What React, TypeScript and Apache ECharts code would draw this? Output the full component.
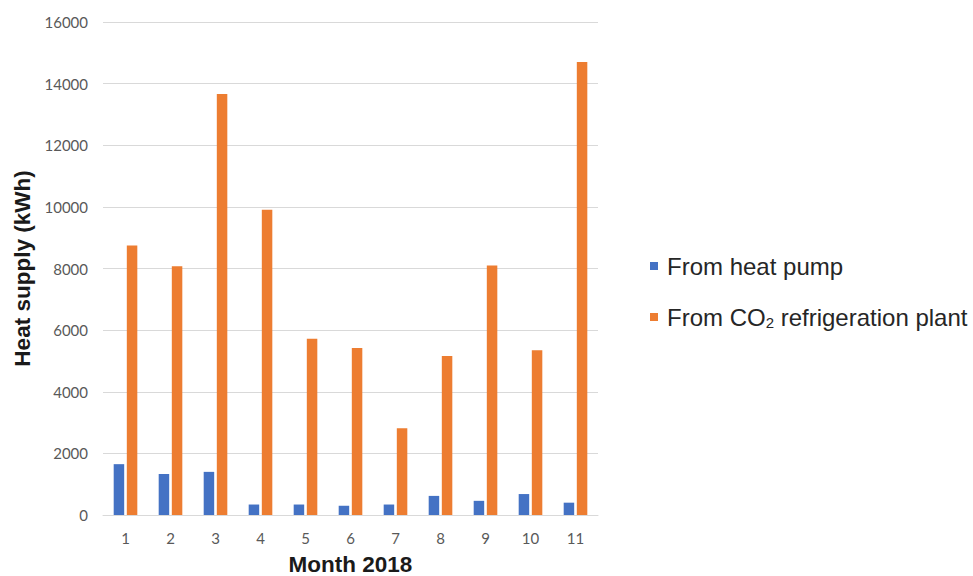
import React, { useEffect, useRef } from "react";
import * as echarts from "echarts";

const months = ["1", "2", "3", "4", "5", "6", "7", "8", "9", "10", "11"];
const heatPump = [1650, 1330, 1400, 340, 340, 300, 340, 620, 460, 680, 400];
const co2Plant = [8750, 8070, 13660, 9910, 5720, 5420, 2815, 5160, 8100, 5350, 14700];
const seriesNames = ["From heat pump", "From CO2 refrigeration plant"];

const FONT = 'Arial, "Liberation Sans", sans-serif';
const TICK_FONT = 'Lato, "Open Sans", sans-serif';

export default function App() {
  const ref = useRef<HTMLDivElement>(null);
  useEffect(() => {
    if (!ref.current) return;
    const chart = echarts.init(ref.current, undefined, { renderer: "svg" });
    chart.setOption({
      animation: false,
      textStyle: { fontFamily: FONT },
      grid: { left: 103, right: 375, top: 22, bottom: 61, outerBoundsMode: "none", containLabel: false },
      legend: {
        orient: "vertical",
        left: 645,
        top: 249,
        itemWidth: 8,
        itemHeight: 8,
        itemGap: 27,
        icon: "rect",
        formatter: (name: string) =>
          name === seriesNames[1] ? "From CO{sub|2} refrigeration plant" : name,
        textStyle: {
          fontFamily: FONT,
          fontSize: 24,
          color: "#262626",
          padding: [0, 0, 0, 4],
          rich: {
            sub: { fontFamily: FONT, fontSize: 15, color: "#262626", padding: [11, 0, 0, 0] },
          },
        },
      },
      xAxis: {
        type: "category",
        data: months,
        name: "Month 2018",
        nameLocation: "middle",
        nameGap: 38,
        nameTextStyle: { fontFamily: FONT, fontSize: 22.5, fontWeight: "bold", color: "#1a1a1a" },
        axisLine: { lineStyle: { color: "#d9d9d9", width: 1 } },
        axisTick: { show: false },
        axisLabel: { color: "#595959", fontSize: 15, margin: 15, fontFamily: TICK_FONT },
      },
      yAxis: {
        type: "value",
        min: 0,
        max: 16000,
        interval: 2000,
        name: "Heat supply (kWh)",
        nameLocation: "middle",
        nameGap: 69,
        nameTextStyle: { fontFamily: FONT, fontSize: 22.5, fontWeight: "bold", color: "#1a1a1a" },
        axisLine: { show: false },
        axisTick: { show: false },
        axisLabel: {
          color: "#595959",
          fontSize: 15,
          margin: 15,
          fontFamily: TICK_FONT,
          formatter: (v: number) => String(v),
        },
        splitLine: { lineStyle: { color: "#d9d9d9", width: 1 } },
      },
      series: [
        {
          name: seriesNames[0],
          type: "bar",
          data: heatPump,
          barWidth: 10.5,
          barGap: "25%",
          itemStyle: { color: "#4472C4" },
        },
        {
          name: seriesNames[1],
          type: "bar",
          data: co2Plant,
          barWidth: 10.5,
          barGap: "25%",
          itemStyle: { color: "#ED7D31" },
        },
      ],
    });
    return () => chart.dispose();
  }, []);
  return (
    <div
      ref={ref}
      style={{ position: "fixed", left: 0, top: 0, width: 973, height: 576, background: "#fff" }}
    />
  );
}
